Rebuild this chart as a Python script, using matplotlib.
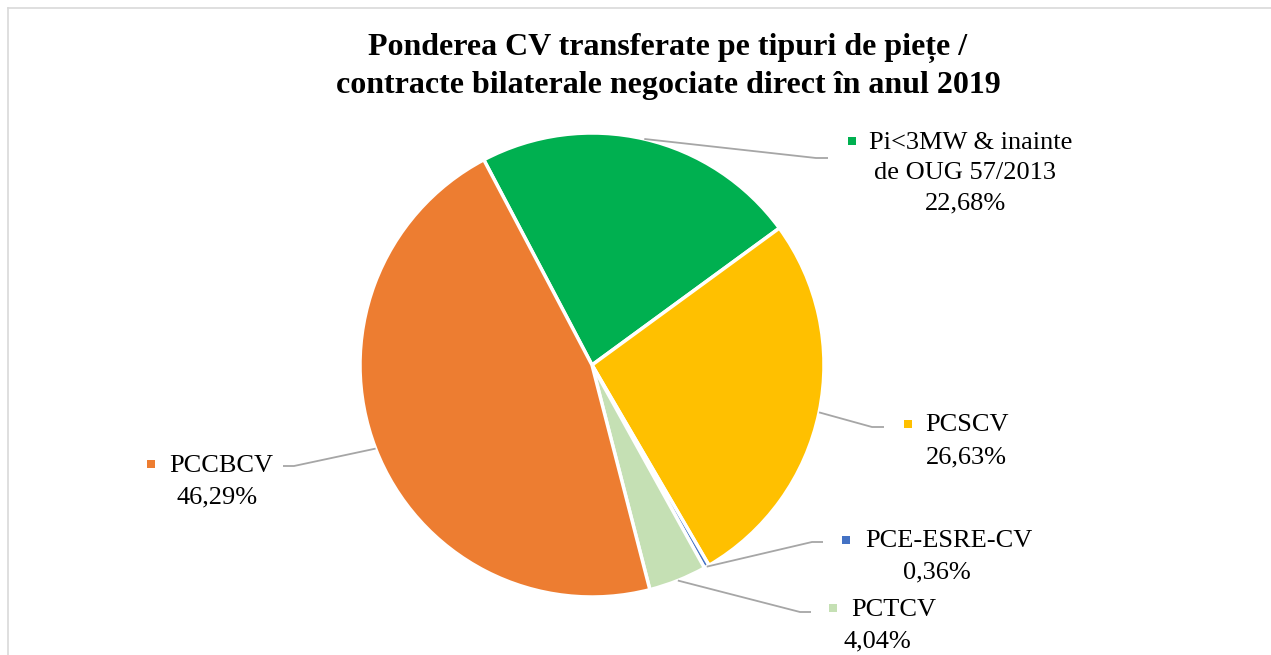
import matplotlib
matplotlib.use("Agg")
import matplotlib.pyplot as plt
import numpy as np
from matplotlib.lines import Line2D

# ---- data ----
categories = ["Pi<3MW & inainte\nde OUG 57/2013", "PCSCV", "PCE-ESRE-CV", "PCTCV", "PCCBCV"]
values = [22.68, 26.63, 0.36, 4.04, 46.29]
value_labels = ["22,68%", "26,63%", "0,36%", "4,04%", "46,29%"]
colors = ["#00B050", "#FFC000", "#4472C4", "#C5E0B4", "#ED7D31"]
title_lines = ["Ponderea CV transferate pe tipuri de piețe /",
               "contracte bilaterale negociate direct în anul 2019"]

W, H = 1271, 655
fig = plt.figure(figsize=(W / 100, H / 100), dpi=100)
ax = fig.add_axes([0, 0, 1, 1])

def py(y):
    return H - y

cx, cy, R = 592, py(365), 232
wedges, _ = ax.pie(values, colors=colors, startangle=117.8, counterclock=False,
                   radius=R, center=(cx, cy), frame=False,
                   wedgeprops=dict(edgecolor="white", linewidth=2.5))
ax.set_xlim(0, W)
ax.set_ylim(0, H)
ax.set_aspect("auto")
ax.axis("off")

# label layout (pixel coords, y from top): marker, name left x/y, rest center x/y, elbow, end
layout = [
    dict(marker=(852, 141), name=(869, 143), rest=(965, 173), elbow=(816, 158), end=(828, 158)),
    dict(marker=(908, 424), name=(925, 425), rest=(966, 457), elbow=(872, 427), end=(884, 427)),
    dict(marker=(846, 540), name=(865, 541), rest=(937, 572), elbow=(812, 542), end=(823, 542)),
    dict(marker=(833, 608), name=(851, 610), rest=(877, 641), elbow=(800, 612), end=(811, 612)),
    dict(marker=(151, 464), name=(169, 466), rest=(217, 497), elbow=(294, 466), end=(283, 466)),
]

font = "Liberation Serif"
fs = 19
for w, cat, vl, col, L in zip(wedges, categories, value_labels, colors, layout):
    mid = np.deg2rad((w.theta1 + w.theta2) / 2)
    sx, sy = cx + R * np.cos(mid), cy + R * np.sin(mid)
    ex, ey = L["elbow"]
    fx, fy = L["end"]
    ax.plot([sx, ex, fx], [sy, py(ey), py(fy)], color="#A6A6A6", lw=1.3,
            solid_capstyle="butt", zorder=1)
    mx, my = L["marker"]
    ax.scatter([mx], [py(my)], marker="s", s=40, color=col, linewidths=0, zorder=3)
    lines = cat.split("\n")
    nx, ny = L["name"]
    ax.text(nx, py(ny), lines[0], ha="left", va="center", fontsize=fs,
            family=font, color="#000000")
    rx, ry = L["rest"]
    for i, t in enumerate(lines[1:] + [vl]):
        ax.text(rx, py(ry + i * 30), t, ha="center", va="center", fontsize=fs,
                family=font, color="#000000")

for i, t in enumerate(title_lines):
    fig.text(668 / W, 1 - (48 + 38 * i) / H, t, ha="center", va="center",
             fontsize=23, fontweight="bold", family=font)

# chart border
fig.add_artist(Line2D([7.5 / W, 1.01], [1 - 7.5 / H, 1 - 7.5 / H],
                      transform=fig.transFigure, color="#D9D9D9", lw=1.2))
fig.add_artist(Line2D([7.5 / W, 7.5 / W], [1 - 7.5 / H, -0.01],
                      transform=fig.transFigure, color="#D9D9D9", lw=1.2))

fig.savefig("out.png", dpi=100, facecolor="white")
